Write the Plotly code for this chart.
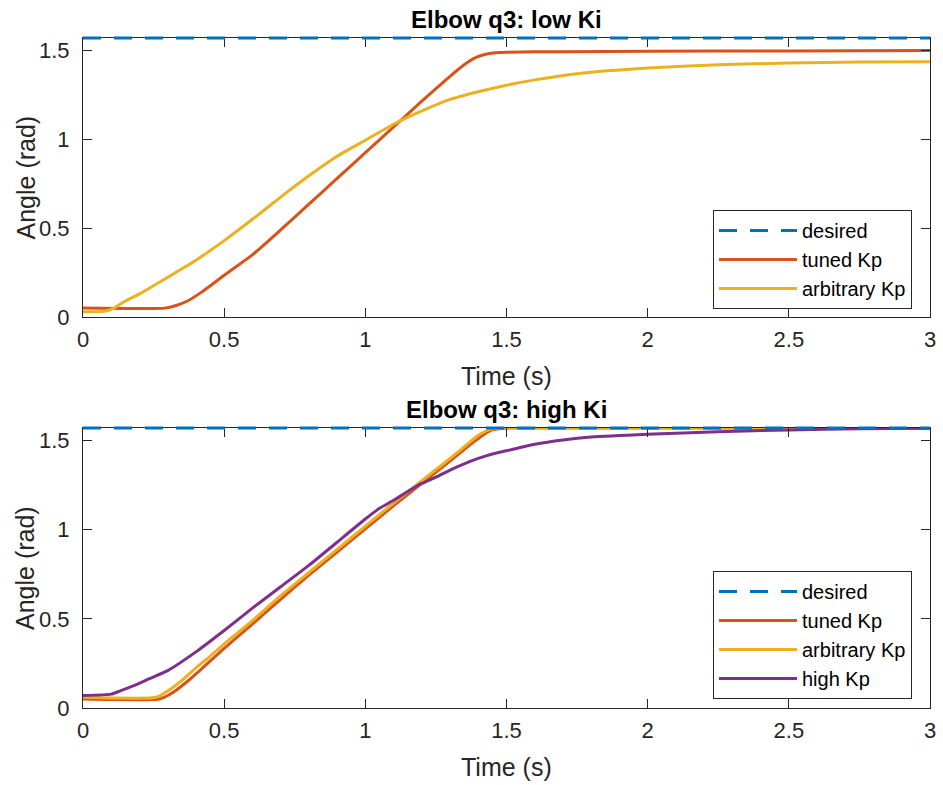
import numpy as np
import plotly.graph_objects as go

# ---------------- data ----------------
desired_t = [0.0, 3.0]
desired_q = [np.pi / 2, np.pi / 2]

# top panel: low Ki
low_tuned_t = [0, 0.29, 0.33, 0.37, 0.42, 0.5, 0.6, 0.7, 0.8, 0.9, 1.0, 1.1, 1.2, 1.3, 1.35,
               1.38, 1.41, 1.44, 1.47, 1.5, 1.7, 2.0, 2.5, 3.0]
low_tuned_q = [0.05, 0.05, 0.065, 0.09, 0.14, 0.235, 0.35, 0.49, 0.635, 0.78, 0.925, 1.07, 1.215,
               1.355, 1.42, 1.452, 1.472, 1.483, 1.489, 1.491, 1.494, 1.496, 1.498, 1.50]

low_arb_t = [0, 0.08, 0.11, 0.15, 0.2, 0.28, 0.4, 0.5, 0.6, 0.7, 0.8, 0.9, 1.0, 1.1, 1.2, 1.3,
             1.4, 1.5, 1.6, 1.75, 2.0, 2.25, 2.5, 2.75, 3.0]
low_arb_q = [0.03, 0.033, 0.05, 0.09, 0.13, 0.205, 0.32, 0.43, 0.55, 0.675, 0.795, 0.905, 0.995,
             1.085, 1.16, 1.225, 1.268, 1.305, 1.335, 1.37, 1.402, 1.42, 1.43, 1.435, 1.437]

# bottom panel: high Ki
high_tuned_t = [0, 0.27, 0.30, 0.33, 0.37, 0.42, 0.5, 0.6, 0.7, 0.8, 0.9, 1.0, 1.1, 1.2, 1.3,
                1.35, 1.39, 1.42, 1.45, 1.48, 1.52, 2.0, 3.0]
high_tuned_q = [0.05, 0.05, 0.07, 0.10, 0.15, 0.22, 0.335, 0.47, 0.61, 0.745, 0.875, 1.005, 1.135,
                1.26, 1.385, 1.45, 1.50, 1.535, 1.56, 1.568, 1.571, 1.571, 1.571]

high_arb_t = [0, 0.26, 0.30, 0.35, 0.40, 0.45, 0.5, 0.6, 0.7, 0.8, 0.9, 1.0, 1.1, 1.2, 1.3,
              1.35, 1.38, 1.41, 1.44, 1.47, 1.5, 2.0, 3.0]
high_arb_q = [0.06, 0.06, 0.095, 0.155, 0.225, 0.29, 0.36, 0.49, 0.63, 0.76, 0.89, 1.02, 1.15,
              1.275, 1.40, 1.465, 1.505, 1.54, 1.562, 1.57, 1.573, 1.573, 1.572]

high_kp_t = [0, 0.1, 0.13, 0.18, 0.24, 0.3, 0.4, 0.5, 0.6, 0.7, 0.8, 0.9, 1.0, 1.05, 1.1, 1.15,
             1.2, 1.25, 1.3, 1.35, 1.4, 1.45, 1.5, 1.6, 1.7, 1.8, 2.0, 2.25, 2.5, 2.75, 3.0]
high_kp_q = [0.07, 0.078, 0.095, 0.125, 0.168, 0.21, 0.315, 0.435, 0.56, 0.68, 0.80, 0.93, 1.06,
             1.12, 1.165, 1.215, 1.26, 1.295, 1.335, 1.37, 1.40, 1.425, 1.443, 1.48, 1.504, 1.52,
             1.536, 1.55, 1.56, 1.566, 1.57]

x_ticks = [0, 0.5, 1, 1.5, 2, 2.5, 3]
x_tick_labels = ["0", "0.5", "1", "1.5", "2", "2.5", "3"]
y_ticks = [0, 0.5, 1, 1.5]
y_tick_labels = ["0", "0.5", "1", "1.5"]

# ---------------- style ----------------
C_BLUE = "#0072BD"
C_ORANGE = "#D95319"
C_YELLOW = "#EDB120"
C_PURPLE = "#7E2F8E"
AX = "#262626"
FONT = "Liberation Sans, Arial, Helvetica, sans-serif"
LW = 3

W, H = 943, 785
ML, MR = 83, 13
PW = W - ML - MR

def py(p):  # pixel row -> paper y
    return 1 - p / H

def px(p):  # pixel column -> paper x
    return (p - ML) / PW

# panel pixel extents (top, bottom)
TOP_PANEL = (38, 317)
BOT_PANEL = (428, 708)
YMAX = np.pi / 2
PADPX = 3  # extra room so the desired line on the top edge is not half clipped

fig = go.Figure()

def add(t, q, name, color, xa, ya, legend, rank, dash=None, shape="spline"):
    fig.add_trace(go.Scatter(
        x=t, y=q, mode="lines", name=name, xaxis=xa, yaxis=ya, legend=legend,
        legendrank=rank,
        line=dict(color=color, width=LW, dash=dash, shape=shape, smoothing=0.5),
    ))

DASH = "18px,13px"
add(low_tuned_t, low_tuned_q, "tuned Kp", C_ORANGE, "x", "y", "legend", 2)
add(low_arb_t, low_arb_q, "arbitrary Kp", C_YELLOW, "x", "y", "legend", 3)
add(desired_t, desired_q, "desired", C_BLUE, "x", "y3", "legend", 1, DASH, "linear")

add(high_tuned_t, high_tuned_q, "tuned Kp", C_ORANGE, "x2", "y2", "legend2", 2)
add(high_arb_t, high_arb_q, "arbitrary Kp", C_YELLOW, "x2", "y2", "legend2", 3)
add(high_kp_t, high_kp_q, "high Kp", C_PURPLE, "x2", "y2", "legend2", 4)
add(desired_t, desired_q, "desired", C_BLUE, "x2", "y4", "legend2", 1, DASH, "linear")

xaxis_common = dict(
    range=[0, 3], tickvals=x_ticks, ticktext=x_tick_labels,
    ticks="inside", ticklen=9, tickwidth=1, tickcolor=AX,
    showline=True, linecolor=AX, linewidth=1, mirror="ticks",
    showgrid=False, zeroline=False,
    tickfont=dict(family=FONT, size=22, color=AX),
    ticklabelstandoff=3,
)
yaxis_common = dict(
    range=[0, YMAX], tickvals=y_ticks, ticktext=y_tick_labels,
    ticks="inside", ticklen=9, tickwidth=1, tickcolor=AX,
    showline=True, linecolor=AX, linewidth=1, mirror="ticks",
    showgrid=False, zeroline=False,
    tickfont=dict(family=FONT, size=22, color=AX),
    ticklabelstandoff=8,
)

def padded_axis(panel):
    top, bot = panel
    pad_units = YMAX * PADPX / (bot - top)
    return dict(visible=False, showgrid=False, zeroline=False, showline=False,
                domain=[py(bot + PADPX), py(top - PADPX)],
                range=[-pad_units, YMAX + pad_units])

legend_common = dict(
    xanchor="right", yanchor="top",
    bgcolor="white", bordercolor=AX, borderwidth=1,
    font=dict(family=FONT, size=20, color="black"),
    itemwidth=78, tracegroupgap=0, traceorder="normal",
)

fig.update_layout(
    width=W, height=H, autosize=False,
    margin=dict(l=ML, r=MR, t=0, b=0, pad=0, autoexpand=False),
    paper_bgcolor="white", plot_bgcolor="rgba(0,0,0,0)",
    xaxis=dict(domain=[0, 1], anchor="y", **xaxis_common),
    yaxis=dict(domain=[py(TOP_PANEL[1]), py(TOP_PANEL[0])], anchor="x", **yaxis_common),
    xaxis2=dict(domain=[0, 1], anchor="y2", **xaxis_common),
    yaxis2=dict(domain=[py(BOT_PANEL[1]), py(BOT_PANEL[0])], anchor="x2", **yaxis_common),
    yaxis3=dict(anchor="x", **padded_axis(TOP_PANEL)),
    yaxis4=dict(anchor="x2", **padded_axis(BOT_PANEL)),
    legend=dict(x=px(912), y=py(210), **legend_common),
    legend2=dict(x=px(912), y=py(571), **legend_common),
    showlegend=True,
)

ann = []
def text(x, y, s, size, bold=False, angle=0):
    ann.append(dict(
        x=x, y=y, xref="paper", yref="paper", text=f"<b>{s}</b>" if bold else s,
        showarrow=False, xanchor="center", yanchor="middle", textangle=angle,
        font=dict(family=FONT, size=size, color="black" if bold else AX),
    ))

text(0.5, py(20), "Elbow q3: low Ki", 24, bold=True)
text(0.5, py(409), "Elbow q3: high Ki", 24, bold=True)
text(0.5, py(376), "Time (s)", 25)
text(0.5, py(767), "Time (s)", 25)
text(px(25), py(177.5), "Angle (rad)", 25, angle=-90)
text(px(25), py(568), "Angle (rad)", 25, angle=-90)
fig.update_layout(annotations=ann)

fig.write_html("out.html", config={"responsive": False})
